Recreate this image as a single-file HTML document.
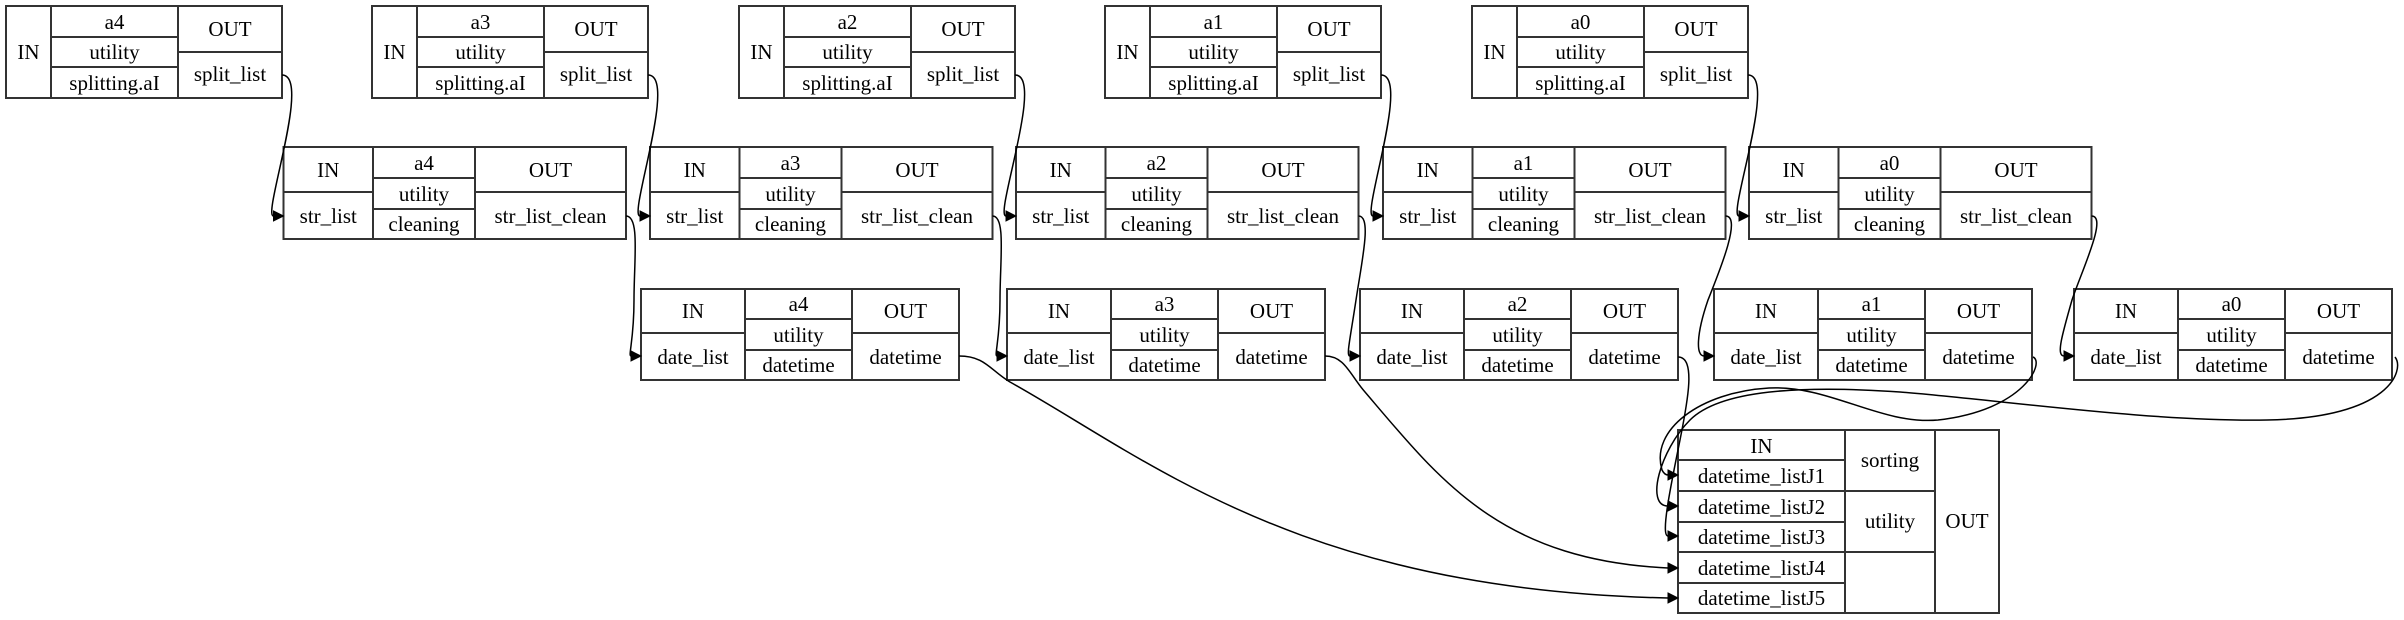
<!DOCTYPE html>
<html><head><meta charset="utf-8"><style>
html,body{margin:0;padding:0;background:#fff;}
svg{display:block;}
text{font-family:"Liberation Serif",serif;font-size:21px;fill:#000;text-anchor:middle;}
.b{fill:none;stroke:#333;stroke-width:2;}
.e{fill:none;stroke:#000;stroke-width:1.5;}
.h{fill:#000;stroke:#000;}
</style></head><body>
<svg width="2404" height="620" viewBox="0 0 2404 620" xmlns="http://www.w3.org/2000/svg">
<defs>
<g id="r1">
<rect class="b" x="0" y="6" width="276" height="92"/>
<line class="b" x1="45" y1="6" x2="45" y2="98"/>
<line class="b" x1="172" y1="6" x2="172" y2="98"/>
<line class="b" x1="45" y1="37" x2="172" y2="37"/>
<line class="b" x1="45" y1="67" x2="172" y2="67"/>
<line class="b" x1="172" y1="52" x2="276" y2="52"/>
<text x="22.5" y="59">IN</text>
<text x="108.5" y="59">utility</text>
<text x="108.5" y="90">splitting.aI</text>
<text x="224" y="36">OUT</text>
<text x="224" y="81">split_list</text>
</g>
<g id="r2">
<rect class="b" x="0" y="147" width="342.5" height="92"/>
<line class="b" x1="89.5" y1="147" x2="89.5" y2="239"/>
<line class="b" x1="191.5" y1="147" x2="191.5" y2="239"/>
<line class="b" x1="0" y1="192" x2="89.5" y2="192"/>
<line class="b" x1="89.5" y1="178" x2="191.5" y2="178"/>
<line class="b" x1="89.5" y1="209" x2="191.5" y2="209"/>
<line class="b" x1="191.5" y1="192" x2="342.5" y2="192"/>
<text x="44.75" y="177">IN</text>
<text x="44.75" y="223">str_list</text>
<text x="140.5" y="201">utility</text>
<text x="140.5" y="231">cleaning</text>
<text x="267" y="177">OUT</text>
<text x="267" y="223">str_list_clean</text>
</g>
<g id="r3">
<rect class="b" x="0" y="289" width="318" height="91"/>
<line class="b" x1="104" y1="289" x2="104" y2="380"/>
<line class="b" x1="211" y1="289" x2="211" y2="380"/>
<line class="b" x1="0" y1="333" x2="104" y2="333"/>
<line class="b" x1="104" y1="319" x2="211" y2="319"/>
<line class="b" x1="104" y1="350" x2="211" y2="350"/>
<line class="b" x1="211" y1="333" x2="318" y2="333"/>
<text x="52" y="318">IN</text>
<text x="52" y="364">date_list</text>
<text x="157.5" y="342">utility</text>
<text x="157.5" y="372">datetime</text>
<text x="264.5" y="318">OUT</text>
<text x="264.5" y="364">datetime</text>
</g>
</defs>

<g transform="translate(6,0)"><use href="#r1"/><text x="108.5" y="29">a4</text></g>
<g transform="translate(372,0)"><use href="#r1"/><text x="108.5" y="29">a3</text></g>
<g transform="translate(739,0)"><use href="#r1"/><text x="108.5" y="29">a2</text></g>
<g transform="translate(1105,0)"><use href="#r1"/><text x="108.5" y="29">a1</text></g>
<g transform="translate(1472,0)"><use href="#r1"/><text x="108.5" y="29">a0</text></g>

<g transform="translate(283.5,0)"><use href="#r2"/><text x="140.5" y="170">a4</text></g>
<g transform="translate(650,0)"><use href="#r2"/><text x="140.5" y="170">a3</text></g>
<g transform="translate(1016,0)"><use href="#r2"/><text x="140.5" y="170">a2</text></g>
<g transform="translate(1383,0)"><use href="#r2"/><text x="140.5" y="170">a1</text></g>
<g transform="translate(1749,0)"><use href="#r2"/><text x="140.5" y="170">a0</text></g>

<g transform="translate(641,0)"><use href="#r3"/><text x="157.5" y="311">a4</text></g>
<g transform="translate(1007,0)"><use href="#r3"/><text x="157.5" y="311">a3</text></g>
<g transform="translate(1360,0)"><use href="#r3"/><text x="157.5" y="311">a2</text></g>
<g transform="translate(1714,0)"><use href="#r3"/><text x="157.5" y="311">a1</text></g>
<g transform="translate(2074,0)"><use href="#r3"/><text x="157.5" y="311">a0</text></g>

<rect class="b" x="1678" y="430" width="321" height="183"/>
<line class="b" x1="1845" y1="430" x2="1845" y2="613"/>
<line class="b" x1="1935" y1="430" x2="1935" y2="613"/>
<line class="b" x1="1678" y1="460" x2="1845" y2="460"/>
<line class="b" x1="1678" y1="491" x2="1935" y2="491"/>
<line class="b" x1="1678" y1="522" x2="1845" y2="522"/>
<line class="b" x1="1678" y1="552" x2="1935" y2="552"/>
<line class="b" x1="1678" y1="583" x2="1845" y2="583"/>
<text x="1761.5" y="453">IN</text>
<text x="1761.5" y="483">datetime_listJ1</text>
<text x="1761.5" y="514">datetime_listJ2</text>
<text x="1761.5" y="544">datetime_listJ3</text>
<text x="1761.5" y="575">datetime_listJ4</text>
<text x="1761.5" y="605">datetime_listJ5</text>
<text x="1890" y="467">sorting</text>
<text x="1890" y="528">utility</text>
<text x="1967" y="528">OUT</text>

<path class="e" d="M282,75 C312,75 262,216 273.5,216"/><polygon class="h" points="273.5,211 283.5,216 273.5,221"/>
<path class="e" d="M648,75 C678,75 628,216 640,216"/><polygon class="h" points="640,211 650,216 640,221"/>
<path class="e" d="M1015,75 C1045,75 994,216 1006,216"/><polygon class="h" points="1006,211 1016,216 1006,221"/>
<path class="e" d="M1381,75 C1411,75 1361,216 1373,216"/><polygon class="h" points="1373,211 1383,216 1373,221"/>
<path class="e" d="M1748,75 C1778,75 1727,216 1739,216"/><polygon class="h" points="1739,211 1749,216 1739,221"/>

<path class="e" d="M626,216 C640,216 634,260 634,300 C634,340 628,356 631,356"/><polygon class="h" points="631,351 641,356 631,361"/>
<path class="e" d="M992.5,216 C1006,216 1000,260 1000,300 C1000,340 994,356 997,356"/><polygon class="h" points="997,351 1007,356 997,361"/>
<path class="e" d="M1358.5,216 C1372,216 1362,260 1356,300 C1350,340 1346,356 1350,356"/><polygon class="h" points="1350,351 1360,356 1350,361"/>
<path class="e" d="M1725.5,216 C1742,216 1720,270 1708,300 C1696,335 1696,356 1704,356"/><polygon class="h" points="1704,351 1714,356 1704,361"/>
<path class="e" d="M2091.5,216 C2108,216 2082,270 2072,300 C2062,335 2056,356 2064,356"/><polygon class="h" points="2064,351 2074,356 2064,361"/>

<path class="e" d="M959,356 C985,356 990,370 1010,382 C1150,460 1300,590 1668,598"/><polygon class="h" points="1668,593 1678,598 1668,603"/>
<path class="e" d="M1325,356 C1345,356 1350,375 1365,392 C1440,480 1500,560 1668,568"/><polygon class="h" points="1668,563 1678,568 1668,573"/>
<path class="e" d="M1678,357 C1696,357 1688,400 1680,440 C1672,480 1660,536 1668,536"/><polygon class="h" points="1668,531 1678,536 1668,541"/>
<path class="e" d="M2033,357 C2045,362 2025,410 1938,420 C1880,425 1830,385 1769,388 C1700,392 1650,430 1662,470 C1664,474 1666,475 1668,475"/><polygon class="h" points="1668,470 1678,475 1668,480"/>
<path class="e" d="M2395,357 C2405,370 2390,418 2267,420 C2150,422 2000,400 1900,392 C1800,385 1720,390 1690,420 C1660,450 1645,506 1668,506"/><polygon class="h" points="1668,501 1678,506 1668,511"/>
</svg>
</body></html>
